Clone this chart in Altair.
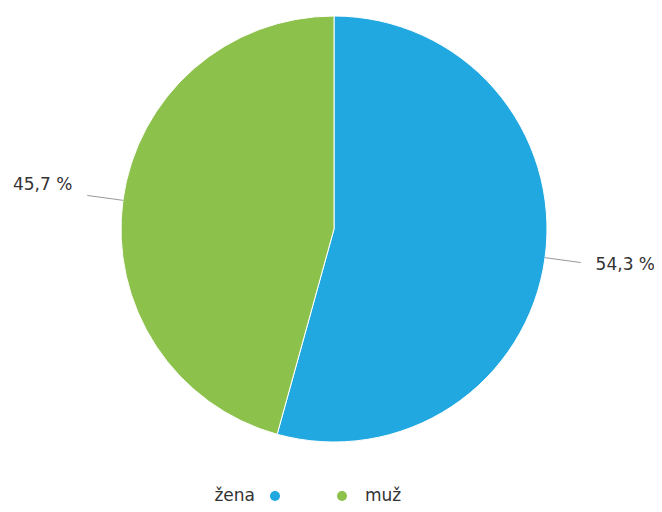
import altair as alt
import pandas as pd

categories = ["žena", "muž"]
values = [54.3, 45.7]
labels = ["54,3 %", "45,7 %"]
colors = ["#22a8e0", "#8cc14c"]
order = [0, 1]

df = pd.DataFrame({"category": categories, "value": values, "label": labels, "order": order})

CX, CY, R = 326, 221, 213
FONT = "DejaVu Sans"
FS = 17

base = alt.Chart(df)

color = alt.Color("category:N", scale=alt.Scale(domain=categories, range=colors), legend=None)

arc = base.mark_arc(stroke="white", strokeWidth=1, outerRadius=R).encode(
    theta=alt.Theta("value:Q", stack=True),
    order=alt.Order("order:Q"),
    color=color,
    x=alt.value(CX),
    y=alt.value(CY),
)

geo = base.transform_window(
    cum="sum(value)", sort=[{"field": "order"}], frame=[None, 0]
).transform_joinaggregate(
    total="sum(value)"
).transform_calculate(
    mid="2*PI*(datum.cum - datum.value/2)/datum.total"
).transform_calculate(
    x1=f"{CX} + {R}*sin(datum.mid)",
    y1=f"{CY} - {R}*cos(datum.mid)",
    x2=f"{CX} + 249*sin(datum.mid)",
    y2=f"{CY} - 249*cos(datum.mid)",
    tx=f"{CX} + 294*sin(datum.mid)",
    ty=f"{CY} - 294*cos(datum.mid)",
)

rules = geo.mark_rule(color="#999999", strokeWidth=1).encode(
    x=alt.X("x1:Q", scale=None, axis=None),
    y=alt.Y("y1:Q", scale=None, axis=None),
    x2="x2:Q",
    y2="y2:Q",
)

texts = geo.mark_text(font=FONT, fontSize=FS, color="#333333", dy=-4).encode(
    x=alt.X("tx:Q", scale=None, axis=None),
    y=alt.Y("ty:Q", scale=None, axis=None),
    text="label:N",
)

LY = 488
legend_x = alt.Scale(domain=categories, range=[267, 334], padding=0)
leg_pts = base.mark_point(filled=True, size=100, opacity=1).encode(
    x=alt.X("category:N", scale=legend_x, axis=None),
    y=alt.value(LY),
    color=color,
)
leg_t1 = base.transform_filter(alt.datum.order == 0).mark_text(
    font=FONT, fontSize=FS, color="#333333", align="right", dx=-20
).encode(
    x=alt.X("category:N", scale=legend_x, axis=None),
    y=alt.value(LY),
    text="category:N",
)
leg_t2 = base.transform_filter(alt.datum.order == 1).mark_text(
    font=FONT, fontSize=FS, color="#333333", align="left", dx=23
).encode(
    x=alt.X("category:N", scale=legend_x, axis=None),
    y=alt.value(LY),
    text="category:N",
)

legend = alt.layer(leg_pts, leg_t1, leg_t2)

chart = alt.layer(arc, rules, texts, legend).resolve_scale(x="independent", y="independent").properties(
    width=646,
    height=496,
    padding=0,
    background="white",
    autosize=alt.AutoSizeParams(type="fit", contains="padding"),
).configure_view(stroke=None)

chart.save("out.html", embed_options={"renderer": "svg", "actions": False})
